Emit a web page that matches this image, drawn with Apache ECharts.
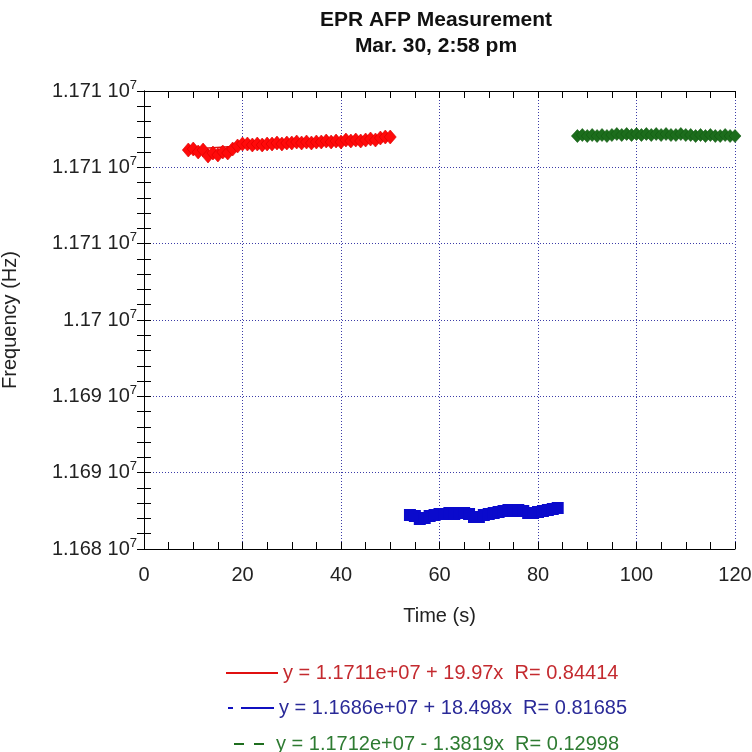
<!DOCTYPE html>
<html>
<head>
<meta charset="utf-8">
<script src="https://cdn.jsdelivr.net/npm/echarts@6/dist/echarts.min.js"></script>
<style>
  html, body { margin: 0; padding: 0; background: #fff; }
  #chart { width: 752px; height: 752px; }
</style>
</head>
<body>
<div id="chart"></div>
<script>
var redTime = [9,10,11,12,13,14,15,16,17,18,19,20,21,22,23,24,25,26,27,28,29,30,31,32,33,34,35,36,37,38,39,40,41,42,43,44,45,46,47,48,49,50]
var redFreq = [11711135,11711200,11711004,11711135,11710741,11710938,11710807,11711004,11710938,11711200,11711397,11711528,11711528,11711462,11711528,11711462,11711528,11711528,11711593,11711528,11711593,11711593,11711659,11711593,11711659,11711593,11711659,11711659,11711724,11711659,11711724,11711659,11711790,11711724,11711790,11711724,11711790,11711855,11711790,11711921,11711986,11711986]

var blueTime = [54,55,56,57,58,59,60,61,62,63,64,65,66,67,68,69,70,71,72,73,74,75,76,77,78,79,80,81,82,83,84]
var blueFreq = [11687227,11687162,11686965,11687031,11687162,11687227,11687293,11687293,11687358,11687293,11687358,11687358,11687293,11687096,11687096,11687227,11687293,11687358,11687424,11687489,11687555,11687489,11687555,11687489,11687358,11687358,11687424,11687489,11687555,11687620,11687686]

var greenTime = [88,89,90,91,92,93,94,95,96,97,98,99,100,101,102,103,104,105,106,107,108,109,110,111,112,113,114,115,116,117,118,119,120]
var greenFreq = [11712052,11712117,11712052,11712117,11712052,11712117,11712052,11712117,11712183,11712117,11712183,11712117,11712183,11712117,11712183,11712117,11712183,11712117,11712183,11712117,11712117,11712183,11712117,11712117,11712052,11712117,11712052,11712117,11712052,11712052,11712117,11712052,11712052]

// fit line end points
var redFit = [[9, 11711180], [50, 11712000]]
var blueFit = [[54, 11687150], [84, 11687650]]
var greenFit = [[88, 11712080], [120, 11712060]]

var fitNames = [
    'y = 1.1711e+07 + 19.97x  R= 0.84414',
    'y = 1.1686e+07 + 18.498x  R= 0.81685',
    'y = 1.1712e+07 - 1.3819x  R= 0.12998'
]

var yMin = 11685000, yMax = 11715000, yStep = 5000
var yTickLabels = ['1.168', '1.169', '1.169', '1.17', '1.171', '1.171', '1.171']

function pairs(xs, ys) {
    var out = []
    for (var i = 0; i < xs.length; i++) out.push([xs[i], ys[i]])
    return out
}

var font = '"Liberation Sans", Arial, sans-serif'
var gridLine = { show: true, lineStyle: { color: '#3c3ca8', type: [1, 2], width: 1 } }
var fitColors = ['#e01010', '#1010c0', '#1f6e1f']
var textColors = ['#c42a2f', '#2a2a98', '#2e7b32']
var fitDash = [
    { type: 'solid', dashOffset: 0 },
    { type: [5, 8, 33, 6], dashOffset: 46 },
    { type: [10, 10, 10, 22], dashOffset: 37 }
]

// one legend block per fit line, stacked
function legendRow(i, left, top) {
    return {
        orient: 'vertical',
        left: left,
        top: top,
        itemWidth: 52,
        itemHeight: 14,
        itemStyle: { opacity: 0 },
        textStyle: { fontFamily: font, fontSize: 20, color: textColors[i] },
        data: [{ name: fitNames[i] }]
    }
}

var myChart = echarts.init(document.getElementById('chart'))

var option = {
    animation: false,
    backgroundColor: '#fff',
    title: {
        text: 'EPR AFP Measurement\nMar. 30, 2:58 pm',
        left: 431,
        top: 2,
        textAlign: 'center',
        textStyle: { fontFamily: font, fontSize: 21, fontWeight: 'bold', color: '#111', lineHeight: 26 }
    },
    grid: { left: 144, right: 17, top: 91, bottom: 203, containLabel: false, outerBoundsMode: 'none' },
    legend: [
        legendRow(0, 220, 658),
        legendRow(1, 216, 693),
        legendRow(2, 213, 729)
    ],
    xAxis: [{
        type: 'value',
        min: 0, max: 120, interval: 20,
        name: 'Time (s)',
        nameLocation: 'middle',
        nameGap: 57,
        nameTextStyle: { fontFamily: font, fontSize: 20, color: '#222' },
        axisLine: { lineStyle: { color: '#000', width: 1 } },
        axisTick: { inside: true, length: 7, lineStyle: { color: '#000' } },
        minorTick: { show: true, splitNumber: 4, length: 7, lineStyle: { color: '#000' } },
        axisLabel: { margin: 16, fontFamily: font, fontSize: 20, color: '#222' },
        splitLine: gridLine
    }, {
        type: 'value',
        position: 'top',
        min: 0, max: 120, interval: 20,
        axisLine: { lineStyle: { color: '#000', width: 1 } },
        axisTick: { inside: true, length: 7, lineStyle: { color: '#000' } },
        minorTick: { show: true, splitNumber: 4, length: 7, lineStyle: { color: '#000' } },
        axisLabel: { show: false },
        splitLine: { show: false }
    }],
    yAxis: [{
        type: 'value',
        min: yMin, max: yMax, interval: yStep,
        name: 'Frequency (Hz)',
        nameLocation: 'middle',
        nameGap: 124,
        nameTextStyle: { fontFamily: font, fontSize: 20, color: '#222' },
        axisLine: { lineStyle: { color: '#000', width: 1 } },
        axisTick: { inside: true, length: 7, lineStyle: { color: '#000' } },
        minorTick: { show: true, splitNumber: 5, length: 7, lineStyle: { color: '#000' } },
        axisLabel: {
            margin: 7,
            formatter: function (v) {
                var i = Math.round((v - yMin) / yStep)
                return '{a|' + yTickLabels[i] + ' 10}{b|7}'
            },
            rich: {
                a: { fontFamily: font, fontSize: 20, color: '#222' },
                b: { fontFamily: font, fontSize: 13, color: '#222', verticalAlign: 'top', padding: [0, 0, 12, 0] }
            }
        },
        splitLine: gridLine
    }, {
        type: 'value',
        position: 'right',
        min: yMin, max: yMax, interval: yStep,
        axisLine: { show: true, lineStyle: { color: '#000', width: 1 } },
        axisTick: { show: true, inside: true, length: 7, lineStyle: { color: '#000' } },
        minorTick: { show: true, splitNumber: 5, length: 7, lineStyle: { color: '#000' } },
        axisLabel: { show: false },
        splitLine: { show: false }
    }],
    series: [
        {
            name: fitNames[0], type: 'line', data: redFit, symbol: 'none', z: 1,
            color: fitColors[0],
            lineStyle: { color: fitColors[0], width: 1.5, type: fitDash[0].type, dashOffset: fitDash[0].dashOffset }
        },
        {
            name: fitNames[1], type: 'line', data: blueFit, symbol: 'none', z: 1,
            color: fitColors[1],
            lineStyle: { color: fitColors[1], width: 1.5, type: fitDash[1].type, dashOffset: fitDash[1].dashOffset }
        },
        {
            name: fitNames[2], type: 'line', data: greenFit, symbol: 'none', z: 1,
            color: fitColors[2],
            lineStyle: { color: fitColors[2], width: 1.5, type: fitDash[2].type, dashOffset: fitDash[2].dashOffset }
        },
        {
            name: 'red data', type: 'scatter', data: pairs(redTime, redFreq), z: 3,
            symbol: 'diamond', symbolSize: [12, 14],
            itemStyle: { color: '#ff0a0a', borderColor: '#d80000', borderWidth: 0.6, opacity: 1 }
        },
        {
            name: 'blue data', type: 'scatter', data: pairs(blueTime, blueFreq), z: 3,
            symbol: 'rect', symbolSize: [12, 12],
            itemStyle: { color: '#0a0acc', opacity: 1 }
        },
        {
            name: 'green data', type: 'scatter', data: pairs(greenTime, greenFreq), z: 3,
            symbol: 'diamond', symbolSize: [12, 13],
            itemStyle: { color: '#1c6d1c', borderColor: '#135a13', borderWidth: 0.6, opacity: 1 }
        }
    ]
}

myChart.setOption(option)
</script>
</body>
</html>
